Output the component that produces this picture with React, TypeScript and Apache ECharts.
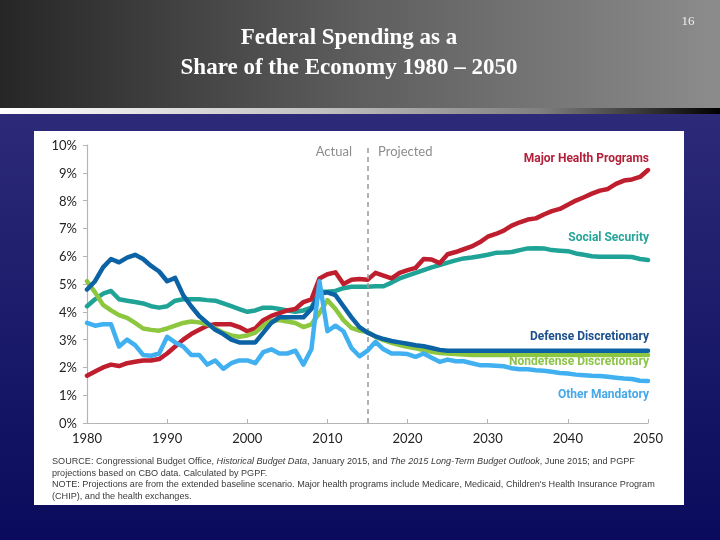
import React, { useEffect, useRef } from "react";
import * as echarts from "echarts";

const startYear = 1980;
const endYear = 2050;
const projectionYear = 2015;
const yTicks = [0, 1, 2, 3, 4, 5, 6, 7, 8, 9, 10];

const majorHealth = [
  1.7, 1.85, 2.0, 2.1, 2.05, 2.15, 2.2, 2.25, 2.25, 2.3,
  2.5, 2.75, 3.0, 3.2, 3.35, 3.5, 3.55, 3.55, 3.55, 3.45,
  3.3, 3.4, 3.7, 3.85, 3.95, 4.05, 4.1, 4.35, 4.45, 5.2,
  5.35, 5.42, 5.0, 5.15, 5.18, 5.15, 5.4, 5.3, 5.2, 5.4,
  5.5, 5.58, 5.9, 5.88, 5.75, 6.07, 6.15, 6.25, 6.35, 6.5,
  6.7, 6.8, 6.92, 7.1, 7.22, 7.32, 7.36, 7.5, 7.62, 7.7,
  7.85, 8.0, 8.12, 8.25, 8.36, 8.42, 8.6, 8.72, 8.76, 8.85,
  9.1,
];
const socialSecurity = [
  4.2, 4.45, 4.65, 4.75, 4.45, 4.4, 4.35, 4.3, 4.2, 4.15,
  4.2, 4.4, 4.45, 4.45, 4.45, 4.42, 4.4, 4.3, 4.2, 4.1,
  4.0, 4.05, 4.15, 4.15, 4.1, 4.05, 4.0, 4.05, 4.15, 4.72,
  4.72, 4.75, 4.85, 4.9, 4.9, 4.9, 4.92, 4.92, 5.05, 5.2,
  5.3, 5.4, 5.5, 5.6, 5.68, 5.77, 5.85, 5.92, 5.95, 6.0,
  6.05, 6.12, 6.13, 6.15, 6.22, 6.28, 6.29, 6.28, 6.22, 6.2,
  6.18, 6.1, 6.05, 6.0, 5.98, 5.98, 5.98, 5.98, 5.97, 5.9,
  5.86,
];
const defenseDiscretionary = [
  4.8, 5.1, 5.6, 5.9, 5.78, 5.95, 6.05, 5.9, 5.65, 5.45,
  5.1, 5.22, 4.6, 4.2, 3.85, 3.6, 3.35, 3.2, 3.0, 2.9,
  2.9, 2.9, 3.25, 3.6, 3.8, 3.8, 3.8, 3.8, 4.1, 4.65,
  4.7, 4.6, 4.2, 3.8, 3.45, 3.25, 3.12, 3.02, 2.95, 2.9,
  2.85, 2.8, 2.76, 2.7, 2.63, 2.6, 2.6, 2.6, 2.6, 2.6,
  2.6, 2.6, 2.6, 2.6, 2.6, 2.6, 2.6, 2.6, 2.6, 2.6,
  2.6, 2.6, 2.6, 2.6, 2.6, 2.6, 2.6, 2.6, 2.6, 2.6,
  2.6,
];
const nondefenseDiscretionary = [
  5.1, 4.7, 4.25, 4.05, 3.88, 3.78, 3.6, 3.4, 3.35, 3.32,
  3.4, 3.5, 3.6, 3.65, 3.62, 3.55, 3.4, 3.25, 3.15, 3.1,
  3.15, 3.25, 3.5, 3.68, 3.7, 3.65, 3.6, 3.45, 3.55, 3.95,
  4.42, 4.1, 3.7, 3.42, 3.32, 3.28, 3.1, 2.98, 2.88, 2.8,
  2.74, 2.69, 2.62, 2.56, 2.52, 2.5, 2.48, 2.46, 2.45, 2.45,
  2.45, 2.45, 2.45, 2.45, 2.45, 2.45, 2.45, 2.45, 2.45, 2.45,
  2.45, 2.45, 2.45, 2.45, 2.45, 2.45, 2.45, 2.45, 2.45, 2.45,
  2.45,
];
const otherMandatory = [
  3.6, 3.5, 3.55, 3.55, 2.75, 3.0, 2.8, 2.45, 2.42, 2.5,
  3.1, 2.9, 2.75, 2.45, 2.45, 2.1, 2.25, 1.95, 2.15, 2.25,
  2.25, 2.15, 2.55, 2.65, 2.5, 2.5, 2.6, 2.1, 2.65, 5.1,
  3.3, 3.5, 3.3, 2.7, 2.4, 2.6, 2.92, 2.65, 2.5, 2.5,
  2.48, 2.38, 2.5, 2.35, 2.2, 2.28, 2.22, 2.22, 2.15, 2.08,
  2.08, 2.06, 2.04, 1.97, 1.93, 1.93, 1.9, 1.88, 1.84, 1.8,
  1.78, 1.74, 1.72, 1.7, 1.69, 1.66, 1.63, 1.6, 1.58, 1.52,
  1.51,
];

const seriesNames = [
  "Major Health Programs",
  "Social Security",
  "Defense Discretionary",
  "Nondefense Discretionary",
  "Other Mandatory",
];
const seriesColors = ["#bf1e2e", "#1fa396", "#0b62a4", "#8dc63f", "#41b0f0"];
const labelColors = ["#b3203a", "#27a59a", "#1c4f8c", "#8cc44a", "#45a8e8"];

const toPairs = (vals: number[]) => vals.map((v, i) => [startYear + i, v]);

export default function App() {
  const ref = useRef<HTMLDivElement>(null);
  useEffect(() => {
    if (!ref.current) return;
    const chart = echarts.init(ref.current, null, { renderer: "svg" });
    const dataSets = [
      majorHealth,
      socialSecurity,
      defenseDiscretionary,
      nondefenseDiscretionary,
      otherMandatory,
    ];
    const drawOrder = [1, 0, 3, 2, 4];
    const series: any[] = drawOrder.map((idx, k) => ({
      type: "line",
      name: seriesNames[idx],
      data: toPairs(dataSets[idx]),
      showSymbol: false,
      symbol: "none",
      z: 3 + k,
      lineStyle: { width: 4.5, color: seriesColors[idx], join: "round", cap: "round" },
      itemStyle: { color: seriesColors[idx] },
    }));
    series.push({
      type: "line",
      name: "divider",
      data: [],
      markLine: {
        silent: true,
        symbol: "none",
        label: { show: false },
        lineStyle: { color: "#9a9a9a", type: [5, 4], width: 1.5 },
        data: [{ xAxis: projectionYear }],
      },
    });

    const labelYs = [158, 237, 336, 361, 394];
    const seriesLabels = seriesNames.map((n, i) => ({
      type: "text",
      z: 20,
      style: {
        text: n,
        x: 649,
        y: labelYs[i],
        align: "right",
        verticalAlign: "middle",
        fill: labelColors[i],
        font: "bold 12px Roboto, 'Noto Sans', sans-serif",
      },
    }));

    const footFont = "9.1px 'Liberation Sans', Arial, sans-serif";
    const option: any = {
      animation: false,
      backgroundColor: "transparent",
      grid: { left: 87, right: 72, top: 145, bottom: 117, containLabel: false },
      xAxis: {
        type: "value",
        min: startYear,
        max: endYear,
        interval: 10,
        axisLine: { show: true, lineStyle: { color: "#b5b5b5", width: 1.2 } },
        axisTick: { show: true, inside: true, length: 4, lineStyle: { color: "#b5b5b5" } },
        splitLine: { show: false },
        axisLabel: {
          color: "#222",
          fontSize: 13,
          fontFamily: "Lato, 'Open Sans', sans-serif",
          margin: 8,
          formatter: (v: number) => String(v),
        },
      },
      yAxis: {
        type: "value",
        min: yTicks[0],
        max: yTicks[yTicks.length - 1],
        interval: 1,
        axisLine: { show: true, lineStyle: { color: "#b5b5b5", width: 1.2 } },
        axisTick: { show: true, length: 4, lineStyle: { color: "#b5b5b5" } },
        splitLine: { show: false },
        axisLabel: {
          color: "#222",
          fontSize: 13,
          fontFamily: "Lato, 'Open Sans', sans-serif",
          margin: 10,
          formatter: "{value}%",
        },
      },
      graphic: [
        {
          type: "rect",
          z: -10,
          shape: { x: 0, y: 0, width: 720, height: 108 },
          style: {
            fill: new echarts.graphic.LinearGradient(0, 0, 1, 0, [
              { offset: 0, color: "#262626" },
              { offset: 0.5, color: "#5e5e5e" },
              { offset: 1, color: "#8c8c8c" },
            ]),
          },
        },
        {
          type: "rect",
          z: -10,
          shape: { x: 0, y: 108, width: 720, height: 6 },
          style: {
            fill: new echarts.graphic.LinearGradient(0, 0, 1, 0, [
              { offset: 0, color: "#ffffff" },
              { offset: 0.45, color: "#c0c0c0" },
              { offset: 0.75, color: "#808080" },
              { offset: 1, color: "#000000" },
            ]),
          },
        },
        {
          type: "rect",
          z: -10,
          shape: { x: 0, y: 114, width: 720, height: 426 },
          style: {
            fill: new echarts.graphic.LinearGradient(0, 0, 0, 1, [
              { offset: 0, color: "#2c2a79" },
              { offset: 1, color: "#0a0b5c" },
            ]),
          },
        },
        {
          type: "rect",
          z: -5,
          shape: { x: 34, y: 131, width: 650, height: 374 },
          style: { fill: "#ffffff" },
        },
        {
          type: "text",
          z: 10,
          style: {
            text: "Federal Spending as a\nShare of the Economy 1980 – 2050",
            x: 349,
            y: 51,
            align: "center",
            verticalAlign: "middle",
            lineHeight: 30,
            fill: "#ffffff",
            font: "bold 23px 'Liberation Serif', 'Times New Roman', serif",
          },
        },
        {
          type: "text",
          z: 10,
          style: {
            text: "16",
            x: 688,
            y: 20,
            align: "center",
            verticalAlign: "middle",
            fill: "#f0f0f0",
            font: "13px 'Liberation Serif', serif",
          },
        },
        {
          type: "text",
          z: 10,
          style: {
            text: "Actual",
            x: 352,
            y: 151,
            align: "right",
            verticalAlign: "middle",
            fill: "#8c8c8c",
            font: "13px Lato, 'Open Sans', sans-serif",
          },
        },
        {
          type: "text",
          z: 10,
          style: {
            text: "Projected",
            x: 378,
            y: 151,
            align: "left",
            verticalAlign: "middle",
            fill: "#8c8c8c",
            font: "13px Lato, 'Open Sans', sans-serif",
          },
        },
        ...seriesLabels,
        {
          type: "text",
          z: 10,
          style: {
            text:
              "SOURCE: Congressional Budget Office, {i|Historical Budget Data}, January 2015, and {i|The 2015 Long-Term Budget Outlook}, June 2015; and PGPF",
            x: 52,
            y: 461,
            verticalAlign: "middle",
            fill: "#3a3a3a",
            font: footFont,
            rich: {
              i: { fontStyle: "italic", fontSize: 9.1, fontFamily: "'Liberation Sans', Arial, sans-serif", fill: "#3a3a3a" },
            },
          },
        },
        {
          type: "text",
          z: 10,
          style: {
            text: "projections based on CBO data. Calculated by PGPF.",
            x: 52,
            y: 473,
            verticalAlign: "middle",
            fill: "#3a3a3a",
            font: footFont,
          },
        },
        {
          type: "text",
          z: 10,
          style: {
            text:
              "NOTE: Projections are from the extended baseline scenario. Major health programs include Medicare, Medicaid, Children's Health Insurance Program",
            x: 52,
            y: 484,
            verticalAlign: "middle",
            fill: "#3a3a3a",
            font: footFont,
          },
        },
        {
          type: "text",
          z: 10,
          style: {
            text: "(CHIP), and the health exchanges.",
            x: 52,
            y: 496,
            verticalAlign: "middle",
            fill: "#3a3a3a",
            font: footFont,
          },
        },
      ],
      series,
    };
    chart.setOption(option);
    return () => chart.dispose();
  }, []);

  return (
    <div
      ref={ref}
      style={{ position: "fixed", left: 0, top: 0, width: 720, height: 540 }}
    />
  );
}
